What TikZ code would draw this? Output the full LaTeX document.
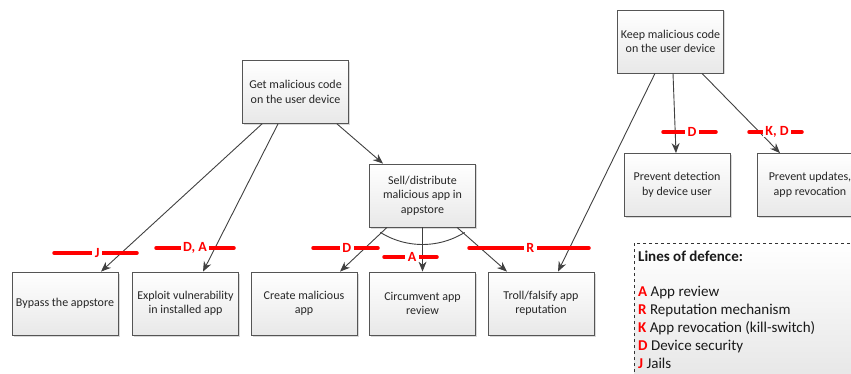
\documentclass[tikz,border=0pt]{standalone}
\usepackage{fontspec}
\setmainfont{Carlito}
\usetikzlibrary{arrows.meta,shadows}
\definecolor{boxline}{HTML}{555555}
\definecolor{arrline}{HTML}{404040}
\definecolor{defred}{HTML}{FF0000}
\begin{document}
\begin{tikzpicture}[x=1pt,y=-1pt,
  box/.style={draw=boxline, line width=0.8pt, top color=white, bottom color=black!9,
    minimum width=106pt, minimum height=63pt, align=center, inner sep=2pt,
    font=\fontsize{12}{14.5}\selectfont, text=black!85,
    drop shadow={shadow xshift=1.5pt, shadow yshift=-1.5pt, fill=black!25, opacity=0.6}},
  arr/.style={draw=arrline, line width=0.9pt, -{Stealth[length=10pt,width=8pt]}},
  defline/.style={draw=defred, line width=3.5pt, line cap=round},
  deflabel/.style={fill=white, text=defred, inner sep=2.5pt, inner ysep=0pt,
    font=\fontsize{14}{14}\selectfont\bfseries},
  legend/.style={draw=black!80, dashed, line width=0.6pt, top color=white, bottom color=black!10}
]
\useasboundingbox (0,0) rectangle (851,374);
\clip (0,0) rectangle (851,374);

% boxes
\node[box] (get) at (295.5,92) {Get malicious code\\on the user device};
\node[box] (keep) at (670.5,41.5) {Keep malicious code\\on the user device};
\node[box] (sell) at (422.5,195.5) {Sell/distribute\\malicious app in\\appstore};
\node[box] (detect) at (677,185) {Prevent detection\\by device user};
\node[box] (updates) at (810,185) {Prevent updates,\\app revocation};
\node[box] (bypass) at (65,303.5) {Bypass the appstore};
\node[box] (exploit) at (185.5,303.5) {Exploit vulnerability\\in installed app};
\node[box] (create) at (304,303.5) {Create malicious\\app};
\node[box] (circ) at (422.5,303.5) {Circumvent app\\review};
\node[box] (troll) at (541,303.5) {Troll/falsify app\\reputation};

% connectors
\draw[arr] ([xshift=-33.5pt]get.south) -- ([xshift=36pt]bypass.north);
\draw[arr] ([xshift=-17.5pt]get.south) -- ([xshift=17.5pt]exploit.north);
\draw[arr] ([xshift=41.5pt]get.south) -- ([xshift=-39.5pt]sell.north);
\draw[arr] ([xshift=-35.5pt]sell.south) -- ([xshift=36pt]create.north);
\draw[arr] (sell.south) -- (circ.north);
\draw[arr] ([xshift=34.5pt]sell.south) -- ([xshift=-34pt]troll.north);
\draw[arr] ([xshift=-15.5pt]keep.south) -- ([xshift=17pt]troll.north);
\draw[arr] ([xshift=2.5pt]keep.south) -- ([xshift=-1pt]detect.north);
\draw[arr] ([xshift=31.5pt]keep.south) -- ([xshift=-30pt]updates.north);

% AND arc
\draw[draw=arrline, line width=0.9pt] plot[domain=58:122, smooth, samples=25]
  ({422.5+79.5*cos(\x)},{165+79.5*sin(\x)});

% lines of defence
\draw[defline] (54,253) -- (137,253) node[deflabel, pos=0.52] (lj) {J};
\draw[defline] (156,248) -- (234,248) node[deflabel, pos=0.5] (lda) {D, A};
\draw[defline] (313,248) -- (378,248) node[deflabel, pos=0.52] (ld1) {D};
\draw[defline] (384,257) -- (437,257) node[deflabel, pos=0.53] (la) {A};
\draw[defline] (469,248) -- (589,248) node[deflabel, pos=0.51] (lr) {R};
\draw[defline] (663,132) -- (716,132) node[deflabel, pos=0.55] (ld2) {D};
\draw[defline] (749,132) -- (802,132) node[deflabel, pos=0.53] (lkd) {K, D};

% legend
\draw[legend] (634,243) rectangle (870,385);
\node[anchor=north west, align=left, inner sep=0pt, text=black!90,
  font=\fontsize{15}{17.8}\selectfont] (leg) at (638,250.5)
  {\textbf{Lines of defence:}\\[17.8pt]
   \textcolor{defred}{\textbf{A}} App review\\
   \textcolor{defred}{\textbf{R}} Reputation mechanism\\
   \textcolor{defred}{\textbf{K}} App revocation (kill-switch)\\
   \textcolor{defred}{\textbf{D}} Device security\\
   \textcolor{defred}{\textbf{J}} Jails};
\end{tikzpicture}
\end{document}
